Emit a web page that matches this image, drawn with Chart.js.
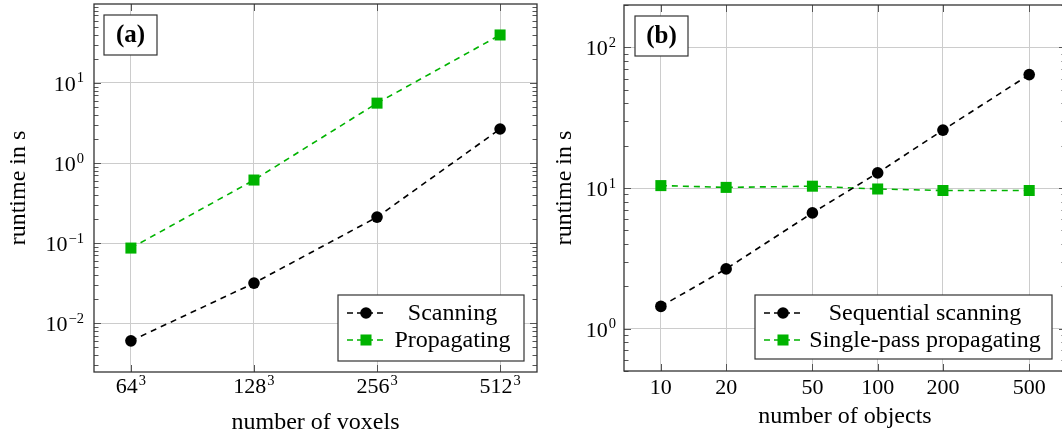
<!DOCTYPE html>
<html>
<head>
<meta charset="utf-8">
<script src="https://cdn.jsdelivr.net/npm/chart.js@4.4.1/dist/chart.umd.min.js"></script>
<style>
  html, body { margin: 0; padding: 0; background: #fff; overflow: hidden; }
  #wrap { position: relative; width: 1062px; height: 437px; overflow: hidden; }
  #left { position: absolute; left: 0; top: 0; }
  #right { position: absolute; left: 545px; top: 0; }
</style>
</head>
<body>
<div id="wrap">
  <canvas id="left" width="545" height="437"></canvas>
  <canvas id="right" width="530" height="437"></canvas>
</div>
<script>
// (a) runtime vs. volume size, in seconds; voxel counts are edge^3
const voxelEdges = ['64', '128', '256', '512'];
const scanningTimes = [0.0060, 0.0316, 0.211, 2.66];
const propagatingTimes = [0.0866, 0.613, 5.6, 39.8];

// (b) runtime vs. number of objects, in seconds
const objectCounts = [10, 20, 50, 100, 200, 500];
const sequentialTimes = [1.44, 2.66, 6.65, 12.8, 25.8, 64];
const singlePassTimes = [10.4, 10.1, 10.3, 9.84, 9.6, 9.6];

// major y ticks (decades)
const runtimeTicksA = [0.01, 0.1, 1, 10];
const runtimeTicksB = [1, 10, 100];

const SERIF = "'Liberation Serif', 'DejaVu Serif', serif";
const TICK_FONT = { family: SERIF, size: 22 };
const TEXT_FONT = { family: SERIF, size: 24 };
const GREEN = '#00b300';
const GRID = '#cccccc';
const AXIS = '#333333';

// base with a raised exponent, anchored by its right edge or centre
function drawPower(ctx, base, exp, x, baseline, align) {
  ctx.font = '22px ' + SERIF;
  const bw = ctx.measureText(base).width;
  ctx.font = '14.5px ' + SERIF;
  const ew = ctx.measureText(exp).width;
  const left = align === 'right' ? x - bw - ew - 1 : x - (bw + ew + 1) / 2;
  ctx.textAlign = 'left';
  ctx.textBaseline = 'alphabetic';
  ctx.fillStyle = '#000';
  ctx.font = '22px ' + SERIF;
  ctx.fillText(base, left, baseline);
  ctx.font = '14.5px ' + SERIF;
  ctx.fillText(exp, left + bw + 1, baseline - 8.5);
}

const tickLabelPlugin = {
  id: 'tickLabels',
  afterDraw(chart, args, opts) {
    const { ctx, chartArea: a, scales } = chart;
    ctx.save();
    scales.y.ticks.forEach(t => {
      const e = Math.round(Math.log10(t.value));
      const py = scales.y.getPixelForValue(t.value);
      drawPower(ctx, '10', String(e).replace('-', '\u2212'), a.left - opts.yGap, py + 8, 'right');
    });
    if (opts.voxels) {
      scales.x.ticks.forEach(t => {
        const px = scales.x.getPixelForValue(t.value);
        drawPower(ctx, voxelEdges[t.value], '3', px, a.bottom + 21, 'center');
      });
    }
    ctx.restore();
  }
};

// frame, inward major/minor ticks
const framePlugin = {
  id: 'frame',
  afterDatasetsDraw(chart) {
    const { ctx, chartArea: a, scales } = chart;
    const x = scales.x, y = scales.y;
    ctx.save();
    ctx.strokeStyle = '#555';
    ctx.lineWidth = 1;
    ctx.beginPath();
    const lo = Math.floor(Math.log10(y.min)), hi = Math.ceil(Math.log10(y.max));
    for (let d = lo; d <= hi; d++) {
      for (let k = 1; k <= 9; k++) {
        const v = k * Math.pow(10, d);
        if (v < y.min || v > y.max) continue;
        const py = Math.round(y.getPixelForValue(v)) + 0.5;
        const len = k === 1 ? 7 : 4.5;
        ctx.moveTo(a.left, py); ctx.lineTo(a.left + len, py);
        ctx.moveTo(a.right, py); ctx.lineTo(a.right - len, py);
      }
    }
    x.ticks.forEach(t => {
      const px = Math.round(x.getPixelForValue(t.value)) + 0.5;
      ctx.moveTo(px, a.bottom); ctx.lineTo(px, a.bottom - 7);
      ctx.moveTo(px, a.top); ctx.lineTo(px, a.top + 7);
    });
    ctx.stroke();
    ctx.strokeStyle = AXIS;
    ctx.lineWidth = 1.3;
    ctx.strokeRect(a.left, a.top, a.right - a.left, a.bottom - a.top);
    ctx.restore();
  }
};

function drawMarker(ctx, ds, cx, cy) {
  ctx.fillStyle = ds.backgroundColor;
  ctx.beginPath();
  if (ds.pointStyle === 'rect') {
    const s = ds.pointRadius * Math.SQRT1_2;
    ctx.rect(cx - s, cy - s, 2 * s, 2 * s);
  } else {
    ctx.arc(cx, cy, ds.pointRadius, 0, Math.PI * 2);
  }
  ctx.fill();
}

// panel tag and boxed legend in the lower right corner
const boxPlugin = {
  id: 'boxes',
  afterDraw(chart, args, opts) {
    const { ctx, chartArea: a } = chart;
    ctx.save();
    ctx.lineWidth = 1.2;
    ctx.strokeStyle = AXIS;

    const tx = a.left + opts.tagX, ty = a.top + 11, tw = 53, th = 40;
    ctx.fillStyle = '#fff';
    ctx.fillRect(tx, ty, tw, th);
    ctx.strokeRect(tx, ty, tw, th);
    ctx.fillStyle = '#000';
    ctx.font = 'bold 25px ' + SERIF;
    ctx.textAlign = 'center';
    ctx.textBaseline = 'middle';
    ctx.fillText(opts.tag, tx + tw / 2, ty + th / 2 + 1);

    const w = opts.legendWidth, h = opts.legendHeight;
    const lx = a.right - opts.legendRight - w, ly = a.bottom - opts.legendBottom - h;
    ctx.fillStyle = '#fff';
    ctx.fillRect(lx, ly, w, h);
    ctx.strokeRect(lx, ly, w, h);
    const textCenter = (lx + 52 + lx + w - 9) / 2;
    chart.data.datasets.forEach((ds, i) => {
      const ry = ly + 18 + i * 27;
      ctx.strokeStyle = ds.borderColor;
      ctx.lineWidth = ds.borderWidth;
      ctx.setLineDash([6, 4]);
      ctx.beginPath();
      ctx.moveTo(lx + 9, ry);
      ctx.lineTo(lx + 47, ry);
      ctx.stroke();
      ctx.setLineDash([]);
      drawMarker(ctx, ds, lx + 28, ry);
      ctx.fillStyle = '#000';
      ctx.font = '24px ' + SERIF;
      ctx.textAlign = 'center';
      ctx.textBaseline = 'middle';
      ctx.fillText(ds.label, textCenter, ry + 1);
    });
    ctx.restore();
  }
};

function series(label, xs, ys, color, style) {
  return {
    label,
    data: xs.map((x, i) => ({ x, y: ys[i] })),
    borderColor: color,
    backgroundColor: color,
    borderWidth: 1.6,
    borderDash: [6, 5],
    pointStyle: style,
    pointRadius: style === 'rect' ? 7.8 : 5.8,
    pointBorderWidth: 0,
    tension: 0
  };
}

function runtimeAxis(min, max, ticks, width, titlePad) {
  return {
    type: 'logarithmic',
    min, max,
    bounds: 'data',
    afterBuildTicks: s => { s.ticks = ticks.map(v => ({ value: v, major: true })); },
    afterFit: s => { s.width = width; s.paddingTop = 0; s.paddingBottom = 0; },
    grid: { color: GRID, lineWidth: 1, drawTicks: false },
    border: { display: false },
    ticks: { display: false },
    title: { display: true, text: 'runtime in s', color: '#000', font: TEXT_FONT, padding: { top: titlePad, bottom: 0 } }
  };
}

const common = {
  responsive: false,
  animation: false,
  events: [],
  plugins: { legend: { display: false }, tooltip: { enabled: false } }
};

new Chart(document.getElementById('left'), {
  type: 'line',
  data: {
    datasets: [
      series('Scanning', voxelEdges.map((_, i) => i), scanningTimes, '#000', 'circle'),
      series('Propagating', voxelEdges.map((_, i) => i), propagatingTimes, GREEN, 'rect')
    ]
  },
  options: {
    ...common,
    layout: { autoPadding: false, padding: { left: 0, top: 4, right: 8, bottom: 0 } },
    scales: {
      x: {
        type: 'linear',
        min: -0.3, max: voxelEdges.length - 0.7,
        afterBuildTicks: s => { s.ticks = voxelEdges.map((_, i) => ({ value: i })); },
        afterFit: s => { s.height = 65; s.paddingLeft = 0; s.paddingRight = 0; },
        grid: { color: GRID, lineWidth: 1, drawTicks: false },
        border: { display: false },
        ticks: { display: false },
        title: { display: true, text: 'number of voxels', color: '#000', font: TEXT_FONT, padding: { top: 0, bottom: 0 } }
      },
      y: runtimeAxis(0.00245, 97, runtimeTicksA, 94, 4.5)
    },
    plugins: {
      ...common.plugins,
      tickLabels: { yGap: 10, voxels: true },
      boxes: { tag: '(a)', tagX: 10, legendWidth: 186, legendHeight: 66, legendRight: 13, legendBottom: 11 }
    }
  },
  plugins: [framePlugin, tickLabelPlugin, boxPlugin]
});

new Chart(document.getElementById('right'), {
  type: 'line',
  data: {
    datasets: [
      series('Sequential scanning', objectCounts, sequentialTimes, '#000', 'circle'),
      series('Single-pass propagating', objectCounts, singlePassTimes, GREEN, 'rect')
    ]
  },
  options: {
    ...common,
    layout: { autoPadding: false, padding: { left: 0, top: 5, right: 9, bottom: 0 } },
    scales: {
      x: {
        type: 'logarithmic',
        min: 6.76, max: 739,
        bounds: 'data',
        afterBuildTicks: s => { s.ticks = objectCounts.map(v => ({ value: v })); },
        afterFit: s => { s.height = 66; s.paddingLeft = 0; s.paddingRight = 0; },
        grid: { color: GRID, lineWidth: 1, drawTicks: false },
        border: { display: false },
        ticks: { autoSkip: false, maxRotation: 0, padding: 4, color: '#000', font: TICK_FONT, callback: v => String(v) },
        title: { display: true, text: 'number of objects', color: '#000', font: TEXT_FONT, padding: { top: 0, bottom: 5.5 } }
      },
      y: runtimeAxis(0.5, 200, runtimeTicksB, 79, 5.5)
    },
    plugins: {
      ...common.plugins,
      tickLabels: { yGap: 8, voxels: false },
      boxes: { tag: '(b)', tagX: 11, legendWidth: 297, legendHeight: 64, legendRight: 14, legendBottom: 12 }
    }
  },
  plugins: [framePlugin, tickLabelPlugin, boxPlugin]
});
</script>
</body>
</html>
